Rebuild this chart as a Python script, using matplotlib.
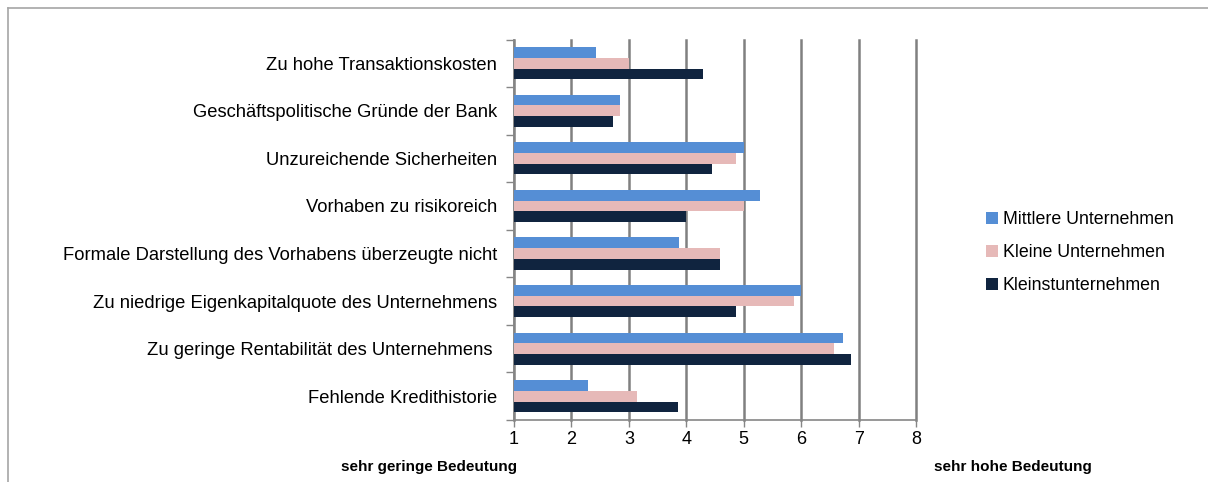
import matplotlib.pyplot as plt
import numpy as np

plt.rcParams['font.family'] = ['Liberation Sans', 'DejaVu Sans']

# Gründe (von oben nach unten)
gruende = [
    "Zu hohe Transaktionskosten",
    "Geschäftspolitische Gründe der Bank",
    "Unzureichende Sicherheiten",
    "Vorhaben zu risikoreich",
    "Formale Darstellung des Vorhabens überzeugte nicht",
    "Zu niedrige Eigenkapitalquote des Unternehmens",
    "Zu geringe Rentabilität des Unternehmens ",
    "Fehlende Kredithistorie",
]
mittlere = [2.43, 2.85, 5.00, 5.29, 3.87, 6.00, 6.73, 2.28]
kleine = [3.00, 2.85, 4.86, 5.00, 4.58, 5.87, 6.58, 3.15]
kleinst = [4.29, 2.72, 4.44, 4.00, 4.59, 4.87, 6.87, 3.85]

serien = ["Mittlere Unternehmen", "Kleine Unternehmen", "Kleinstunternehmen"]
farben = ["#558ED5", "#E6B9B8", "#10243F"]

fig = plt.figure(figsize=(12.08, 4.82), dpi=100)
ax = fig.add_axes([514 / 1208, 1 - 420 / 482, 402 / 1208, 380.5 / 482])

y = np.arange(len(gruende))
h = 0.225
start = 1
for k, (werte, name, farbe) in enumerate(zip([mittlere, kleine, kleinst], serien, farben)):
    w = np.array(werte) - start
    ax.barh(y + (k - 1) * h, w, height=h, left=start, color=farbe, label=name, zorder=3)

ax.set_xlim(1, 8)
ax.set_ylim(len(gruende) - 0.5, -0.5)
ax.set_xticks(range(1, 9))
ax.xaxis.grid(True, color="#808080", linewidth=1.8, zorder=0)
for gl in ax.get_xgridlines():
    gl.set_clip_on(False)

# Striche zwischen den Gruppen, Beschriftung in der Mitte
ax.set_yticks(np.arange(-0.5, len(gruende), 1))
ax.set_yticklabels([])
ax.set_yticks(y, minor=True)
ax.set_yticklabels(gruende, minor=True, fontsize=13.2)
ax.tick_params(axis="y", which="minor", length=0, pad=12)
ax.tick_params(axis="y", which="major", length=6, color="#868686", width=1)
ax.tick_params(axis="x", length=5, color="#868686", width=1, labelsize=13, pad=3)

for s in ["top", "right"]:
    ax.spines[s].set_visible(False)
for s in ["left", "bottom"]:
    ax.spines[s].set_color("#868686")
    ax.spines[s].set_linewidth(1.2)

leg = fig.legend(loc="upper left", bbox_to_anchor=(970 / 1208, 1 - 195 / 482),
                 frameon=False, fontsize=12.8, handlelength=0.65, handleheight=0.65,
                 handletextpad=0.3, labelspacing=0.9)

fig.text(429 / 1208, 1 - 467 / 482, "sehr geringe Bedeutung", ha="center", va="center",
         fontsize=11, fontweight="bold")
fig.text(1013 / 1208, 1 - 467 / 482, "sehr hohe Bedeutung", ha="center", va="center",
         fontsize=11, fontweight="bold")

# Rahmen des Diagrammbereichs
fig.add_artist(plt.Line2D([8 / 1208, 1], [1 - 8 / 482, 1 - 8 / 482], color="#A6A6A6", linewidth=1.2))
fig.add_artist(plt.Line2D([8 / 1208, 8 / 1208], [0, 1 - 8 / 482], color="#A6A6A6", linewidth=1.2))

fig.savefig("out.png", dpi=100)
